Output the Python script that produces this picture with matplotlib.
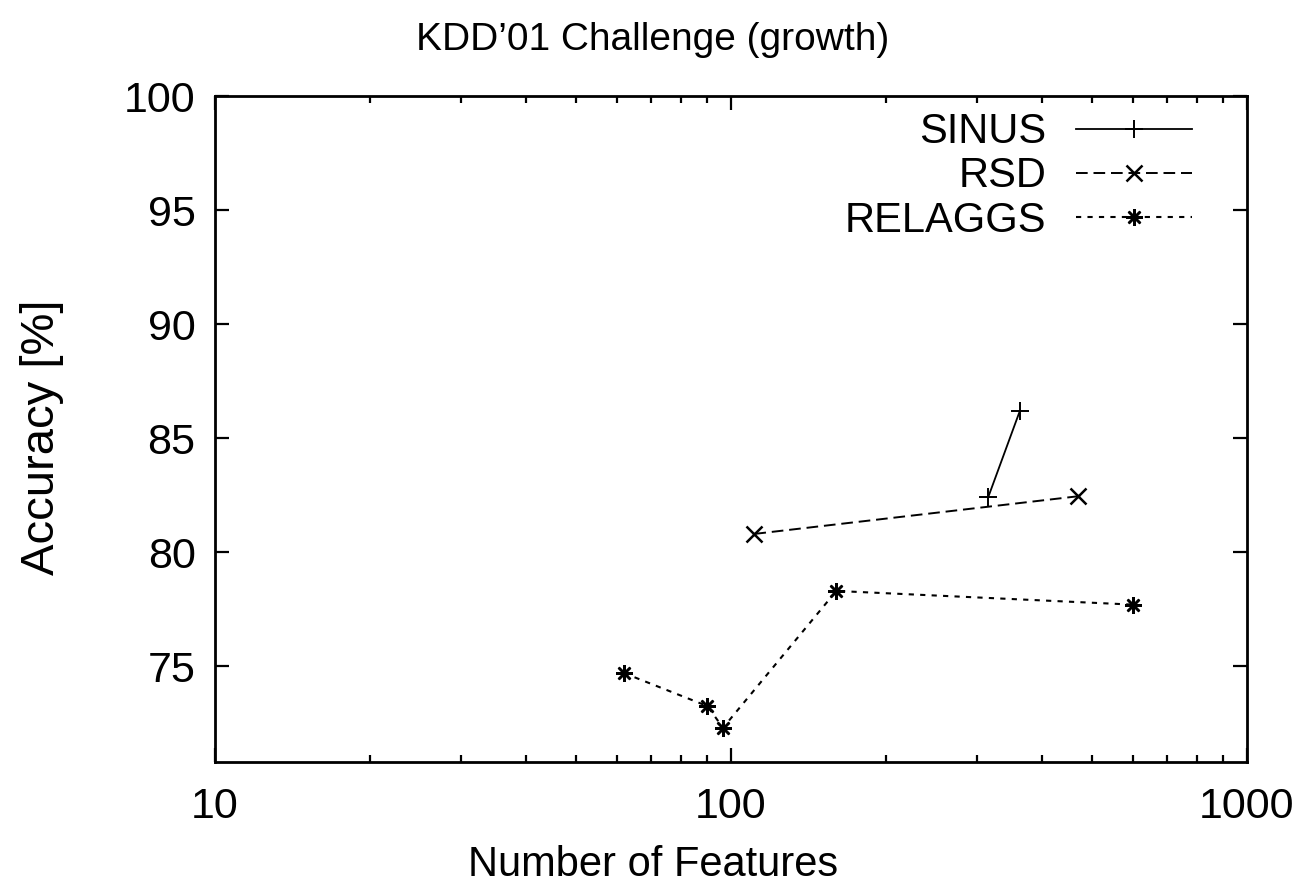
"""Accuracy vs. number of features for the KDD'01 challenge (growth)."""

import matplotlib
matplotlib.use("Agg")
import matplotlib.pyplot as plt
from matplotlib.ticker import LogLocator, NullFormatter, FixedLocator


# data
sinus_features = [315, 363]
sinus_accuracy = [82.4, 86.2]

rsd_features = [111, 470]
rsd_accuracy = [80.8, 82.45]

relaggs_features = [62, 90, 96.5, 160, 601]
relaggs_accuracy = [74.7, 73.25, 72.3, 78.3, 77.7]

y_ticks = [75, 80, 85, 90, 95, 100]
x_ticks = [10, 100, 1000]
x_tick_labels = ["10", "100", "1000"]

WIDTH = 1306
HEIGHT = 894
DPI = 100


def main():
    plt.rcParams["font.family"] = ["Liberation Sans", "DejaVu Sans"]

    fig = plt.figure(figsize=(WIDTH / DPI, HEIGHT / DPI), dpi=DPI)
    ax = fig.add_axes([215 / WIDTH, 1 - 762 / HEIGHT, 1032 / WIDTH, 666 / HEIGHT])

    ax.plot(sinus_features, sinus_accuracy, color="black", lw=1.3,
            linestyle="-", marker="+", ms=13, mew=1.4, label="SINUS")
    ax.plot(rsd_features, rsd_accuracy, color="black", lw=1.4,
            linestyle=(0, (6, 3)), marker="x", ms=11, mew=1.8, label="RSD")
    ax.plot(relaggs_features, relaggs_accuracy, color="black", lw=1.5,
            linestyle=(0, (2.5, 3)), marker=(8, 2, 0), ms=12, mew=1.8,
            label="RELAGGS")

    ax.set_xscale("log")
    ax.set_xlim(10, 1000)
    ax.set_ylim(70.8, 100)

    ax.xaxis.set_major_locator(FixedLocator(x_ticks))
    ax.set_xticklabels(x_tick_labels)
    ax.xaxis.set_minor_locator(LogLocator(base=10, subs=range(2, 10)))
    ax.xaxis.set_minor_formatter(NullFormatter())
    ax.set_yticks(y_ticks)

    ax.tick_params(which="both", direction="in", top=True, right=True,
                   labelsize=31, width=1.6)
    ax.tick_params(which="major", length=10)
    ax.tick_params(which="minor", length=5)
    ax.tick_params(axis="x", pad=18)
    ax.tick_params(axis="y", pad=14)
    for spine in ax.spines.values():
        spine.set_linewidth(2)

    # gnuplot style key: label on the left, sample on the right
    leg = ax.legend(loc="upper right", bbox_to_anchor=(0.955, 0.988),
                    markerfirst=False, frameon=False, fontsize=30,
                    handlelength=2.8, handletextpad=0.7, labelspacing=0.1,
                    borderaxespad=0, borderpad=0.2)
    for text in leg.get_texts():
        text.set_ha("right")

    fig.text(0.5, 1 - 40 / HEIGHT, "KDD’01 Challenge (growth)",
             ha="center", va="center", fontsize=28)
    fig.text(0.5, 1 - 865 / HEIGHT, "Number of Features",
             ha="center", va="center", fontsize=30)
    fig.text(42 / WIDTH, 1 - 437 / HEIGHT, "Accuracy [%]", rotation=90,
             ha="center", va="center", fontsize=34)

    fig.savefig("out.png", dpi=DPI)
    plt.close(fig)


if __name__ == "__main__":
    main()
